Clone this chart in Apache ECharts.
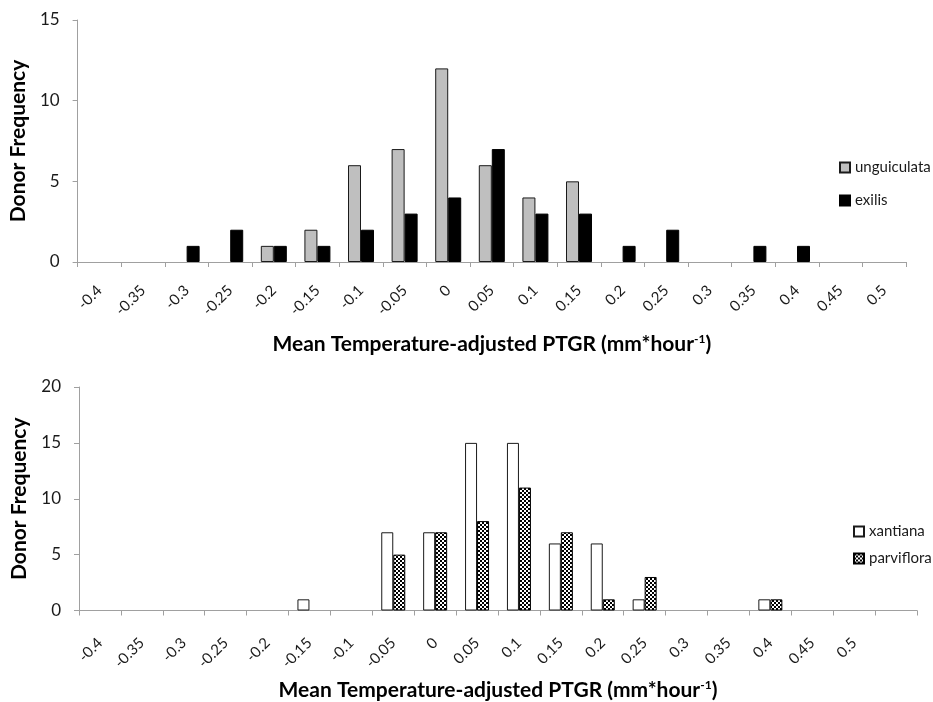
<!DOCTYPE html>
<html>
<head>
<meta charset="utf-8">
<script src="https://cdn.jsdelivr.net/npm/echarts@6/dist/echarts.min.js"></script>
<style>
  html, body { margin: 0; padding: 0; background: #fff; }
  #chart { width: 933px; height: 702px; }
</style>
</head>
<body>
<div id="chart"></div>
<script>
var fonte = 'Lato'

// faixas de PTGR (o grafico de baixo tem uma categoria vazia no fim)
var categoriasTopo = ['-0.4', '-0.35', '-0.3', '-0.25', '-0.2', '-0.15', '-0.1', '-0.05', '0', '0.05',
  '0.1', '0.15', '0.2', '0.25', '0.3', '0.35', '0.4', '0.45', '0.5']
var categoriasBase = categoriasTopo.concat([''])

var unguiculata = [0, 0, 0, 0, 1, 2, 6, 7, 12, 6, 4, 5, 0, 0, 0, 0, 0, 0, 0]
var exilis = [0, 0, 1, 2, 1, 1, 2, 3, 4, 7, 3, 3, 1, 2, 0, 1, 1, 0, 0]
var xantiana = [0, 0, 0, 0, 0, 1, 0, 7, 7, 15, 15, 6, 6, 1, 0, 0, 1, 0, 0, 0]
var parviflora = [0, 0, 0, 0, 0, 0, 0, 5, 7, 8, 11, 7, 1, 3, 0, 0, 1, 0, 0, 0]

var tituloX = 'Mean Temperature-adjusted PTGR (mm*hour{sup|-1})'
var tituloY = 'Donor Frequency'

function semZero(lista) {
  return lista.map(function (v) { return v === 0 ? null : v })
}

function padraoXadrez() {
  var c = document.createElement('canvas')
  c.width = 4
  c.height = 4
  var ctx = c.getContext('2d')
  ctx.fillStyle = '#fff'
  ctx.fillRect(0, 0, 4, 4)
  ctx.fillStyle = '#000'
  ctx.fillRect(0, 0, 2, 2)
  ctx.fillRect(2, 2, 2, 2)
  return c
}

function eixoX(indice, categorias, gap, margem) {
  return {
    type: 'category',
    gridIndex: indice,
    data: categorias,
    name: tituloX,
    nameLocation: 'middle',
    nameGap: gap,
    nameTextStyle: {
      fontFamily: fonte, fontSize: 21, fontWeight: 'bold', color: '#000',
      rich: { sup: { fontFamily: fonte, fontSize: 12, fontWeight: 'bold', color: '#000', padding: [0, 0, 10, 0] } }
    },
    axisLine: { lineStyle: { color: '#a0a0a0', width: 1 } },
    axisTick: { show: true, length: 5, lineStyle: { color: '#a0a0a0' } },
    axisLabel: { interval: 0, rotate: 45, margin: margem, fontFamily: fonte, fontSize: 15, color: '#1a1a1a' },
    splitLine: { show: false }
  }
}

function eixoY(indice, max, gap) {
  return {
    type: 'value',
    gridIndex: indice,
    min: 0,
    max: max,
    interval: 5,
    name: tituloY,
    nameLocation: 'middle',
    nameGap: gap,
    nameTextStyle: { fontFamily: fonte, fontSize: 21, fontWeight: 'bold', color: '#000' },
    axisLine: { show: true, lineStyle: { color: '#a0a0a0', width: 1 } },
    axisTick: { show: true, length: 5, lineStyle: { color: '#a0a0a0' } },
    axisLabel: { margin: 18, fontFamily: fonte, fontSize: 17, color: '#1a1a1a' },
    splitLine: { show: false }
  }
}

var chart = echarts.init(document.getElementById('chart'))

var option = {
  animation: false,
  backgroundColor: '#fff',
  grid: [
    { left: 73, right: 27, top: 20, height: 242 },
    { left: 79, right: 16, top: 387, height: 225 }
  ],
  xAxis: [eixoX(0, categoriasTopo, 71, 26), eixoX(1, categoriasBase, 69, 30)],
  yAxis: [eixoY(0, 15, 46), eixoY(1, 20, 49)],
  legend: [
    {
      orient: 'vertical', left: 834, top: 155, itemWidth: 10, itemHeight: 10, itemGap: 18, icon: 'rect',
      data: ['unguiculata', 'exilis'],
      textStyle: { fontFamily: fonte, fontSize: 15, color: '#1a1a1a' }
    },
    {
      orient: 'vertical', left: 848, top: 519, itemWidth: 10, itemHeight: 10, itemGap: 12, icon: 'rect',
      data: ['xantiana', 'parviflora'],
      textStyle: { fontFamily: fonte, fontSize: 15, color: '#1a1a1a' }
    }
  ],
  series: [
    {
      name: 'unguiculata', type: 'bar', xAxisIndex: 0, yAxisIndex: 0,
      barWidth: 13, barGap: '0%', data: semZero(unguiculata),
      itemStyle: { color: '#bfbfbf', borderColor: '#1a1a1a', borderWidth: 1 }
    },
    {
      name: 'exilis', type: 'bar', xAxisIndex: 0, yAxisIndex: 0,
      barWidth: 13, barGap: '0%', data: semZero(exilis),
      itemStyle: { color: '#000', borderColor: '#000', borderWidth: 1 }
    },
    {
      name: 'xantiana', type: 'bar', xAxisIndex: 1, yAxisIndex: 1,
      barWidth: 12, barGap: '0%', data: semZero(xantiana),
      itemStyle: { color: '#fff', borderColor: '#1a1a1a', borderWidth: 1 }
    },
    {
      name: 'parviflora', type: 'bar', xAxisIndex: 1, yAxisIndex: 1,
      barWidth: 12, barGap: '0%', data: semZero(parviflora),
      itemStyle: { color: { image: padraoXadrez(), repeat: 'repeat' }, borderColor: '#000', borderWidth: 1 }
    }
  ]
}

chart.setOption(option)
</script>
</body>
</html>
